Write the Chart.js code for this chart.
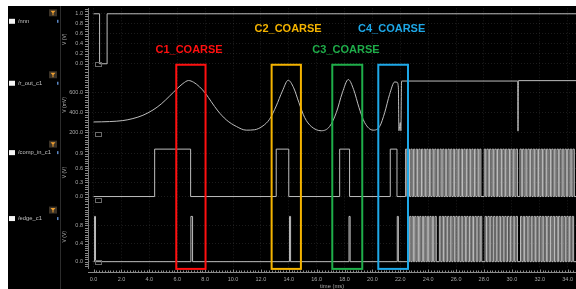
<!DOCTYPE html>
<html>
<head>
<meta charset="utf-8">
<script src="https://cdn.jsdelivr.net/npm/chart.js@4.4.1/dist/chart.umd.min.js"></script>
<style>
  html, body { margin: 0; padding: 0; background: #fff; }
  #wave { display: block; }
</style>
</head>
<body>
<canvas id="wave" width="576" height="289"></canvas>
<script>
// time axis (ms)
const xTickValues = [0, 2, 4, 6, 8, 10, 12, 14, 16, 18, 20, 22, 24, 26, 28, 30, 32, 34];

// /nnn  (V) - level changes at each time
const nnnTime  = [0, 0.43, 0.97, 34.6];
const nnnLevel = [1, 0, 1, 1];

// /r_out_c1 (mV)
const outTime = [0, 1.15, 2.1, 2.82, 3.54, 4.26, 4.85, 5.45, 5.98, 6.41, 6.81, 7.17, 7.6, 8.03, 8.44, 8.92,
  9.52, 10.24, 10.95, 11.55, 12.15, 12.62, 13.1, 13.54, 13.96, 14.35, 14.73, 15.14, 15.61, 16.33, 16.93,
  17.41, 17.84, 18.27, 18.65, 19.04, 19.44, 20.04, 20.52, 20.88, 21.23, 21.6, 21.76, 21.86, 21.9, 22.0,
  22.04, 22.09, 30.42, 30.44, 30.47, 34.6];
const outMv = [302, 306, 316, 336, 369, 422, 482, 561, 634, 687, 717, 700, 654, 588, 505, 412,
  323, 257, 220, 224, 263, 329, 462, 611, 720, 644, 495, 346, 257, 214, 257,
  396, 594, 727, 627, 445, 296, 220, 257, 396, 578, 703, 700, 650, 214, 296,
  214, 712, 712, 210, 716, 716];

// /comp_in_c1 (V): starts low, toggles at each listed time (ms)
const compLow = 0, compHigh = 1.0;
const compEdges = [4.38, 6.96, 13.10, 14.00, 17.65, 18.36, 21.28, 21.76,
  22.38, 22.47, 22.57, 22.66, 22.76, 22.85, 22.95, 23.04, 23.14, 23.23, 23.33, 23.42, 23.52, 23.61,
  23.71, 23.80, 23.90, 23.99, 24.09, 24.18, 24.28, 24.37, 24.47, 24.56, 24.66, 24.75, 24.85, 24.94,
  25.04, 25.13, 25.23, 25.32, 25.42, 25.51, 25.61, 25.70, 25.80, 25.89, 25.99, 26.08, 26.18, 26.27,
  26.37, 26.46, 26.56, 26.65, 26.75, 26.84, 26.94, 27.03, 27.13, 27.22, 27.32, 27.41, 27.51, 27.60,
  27.70, 27.78,
  28.02, 28.12, 28.21, 28.31, 28.40, 28.50, 28.59, 28.69, 28.78, 28.88, 28.97, 29.07, 29.16, 29.26,
  29.35, 29.45, 29.54, 29.64, 29.73, 29.83, 29.92, 30.02, 30.11, 30.21, 30.30, 30.40,
  30.58, 30.68, 30.77, 30.87, 30.96, 31.06, 31.15, 31.25, 31.34, 31.44, 31.53, 31.63, 31.72, 31.82,
  31.91, 32.01, 32.10, 32.20, 32.29, 32.39, 32.48, 32.58, 32.67, 32.77, 32.86, 32.96, 33.05, 33.15,
  33.24, 33.34, 33.43, 33.53, 33.62, 33.72, 33.81, 33.91, 34.00, 34.10, 34.19, 34.29, 34.38, 34.48];

// /edge_c1 (V): starts low, toggles at each listed time (ms)
const edgeLow = 0, edgeHigh = 1.0;
const edgeEdges = [0.07, 0.14, 6.98, 7.10, 14.05, 14.13, 18.32, 18.40, 21.78, 21.86,
  22.67, 22.76, 22.85, 22.94, 23.03, 23.12, 23.21, 23.30, 23.39, 23.48, 23.58, 23.67, 23.76, 23.85,
  23.94, 24.03, 24.12, 24.21, 24.30, 24.39, 24.49, 24.58,
  24.80, 24.90, 25.00, 25.10, 25.19, 25.29, 25.39, 25.49, 25.59, 25.69, 25.78, 25.88, 25.98, 26.08,
  26.18, 26.27, 26.37, 26.47, 26.57, 26.67, 26.76, 26.86, 26.96, 27.06, 27.16, 27.25, 27.35, 27.45,
  27.55, 27.65, 27.74, 27.84,
  28.08, 28.18, 28.28, 28.38, 28.48, 28.58, 28.69, 28.79, 28.89, 28.99, 29.09, 29.19, 29.29, 29.39,
  29.49, 29.59, 29.69, 29.80, 29.90, 30.00, 30.10, 30.20, 30.30, 30.40,
  30.62, 30.72, 30.82, 30.91, 31.01, 31.11, 31.21, 31.30, 31.40, 31.50, 31.60, 31.69, 31.79, 31.89,
  31.99, 32.09, 32.18, 32.28, 32.38, 32.48, 32.57, 32.67, 32.77, 32.87, 32.96, 33.06, 33.16, 33.26,
  33.35, 33.45, 33.55, 33.65, 33.74, 33.84, 33.94, 34.04, 34.13, 34.23, 34.33, 34.43];

// y tick labels per panel
const nnnTicks  = [0, 0.2, 0.4, 0.6, 0.8, 1.0];
const outTicks  = [200, 400, 600];
const compTicks = [0, 0.3, 0.6, 0.9];
const edgeTicks = [0, 0.4, 0.8];

const signalNames = ['/nnn', '/r_out_c1', '/comp_in_c1', '/edge_c1'];

// coarse windows (ms)
const coarseNames = ['C1_COARSE', 'C2_COARSE', 'C3_COARSE', 'C4_COARSE'];
const coarseStart = [5.93, 12.77, 17.12, 20.42];
const coarseEnd   = [8.03, 14.87, 19.27, 22.55];
const coarseColors = ['#ff1010', '#f5b400', '#1fae4a', '#1ea8e8'];
// label anchor: time (ms) and level on the /nnn panel
const coarseLabelTime  = [6.85, 13.95, 18.1, 21.38];
const coarseLabelLevel = [0.28, 0.70, 0.28, 0.70];

const T_END = 34.6;

const toPoints = (ts, vs) => ts.map((t, i) => ({ x: t, y: vs[i] }));

// digital trace from a toggle list (stepped 'before': point = new level from that time)
function toggles(edges, low, high) {
  const pts = [{ x: 0, y: low }];
  let level = low;
  edges.forEach(t => {
    level = level === low ? high : low;
    pts.push({ x: t, y: level });
  });
  pts.push({ x: T_END, y: level });
  return pts;
}

const panelAxes = ['yNnn', 'yOut', 'yComp', 'yEdge'];
const rulerSteps = [0.05, 25, 0.05, 0.05];
const tickColor = '#a9a9a9';
const gridColor = 'rgba(255,255,255,0.11)';
const waveColor = '#bdbdbd';

function panelAxis(min, max, ticks, weight, title) {
  return {
    type: 'linear',
    position: 'left',
    stack: 'wave',
    stackWeight: weight,
    min: min,
    max: max,
    afterBuildTicks: s => { s.ticks = ticks.map(v => ({ value: v })); },
    afterFit: s => { s.width = 28; },
    ticks: {
      color: tickColor,
      font: { size: 5.5, family: 'Liberation Sans' },
      padding: 5,
      autoSkip: false,
      callback: v => v.toFixed(1)
    },
    grid: { color: gridColor, drawTicks: false },
    border: { display: true, color: '#7c7c7c', dash: [1, 2] },
    title: {
      display: true, text: title, color: tickColor,
      font: { size: 5, family: 'Liberation Sans' },
      padding: { top: 2, bottom: 0 }
    }
  };
}

const waveChrome = {
  id: 'waveChrome',
  beforeDraw(chart) {
    const { ctx, width, height, scales } = chart;
    ctx.save();
    ctx.fillStyle = '#ffffff';
    ctx.fillRect(0, 0, width, height);
    ctx.fillStyle = '#000000';
    ctx.fillRect(8, 6, width - 8, height - 6);
    ctx.strokeStyle = '#2c2c2c';
    ctx.lineWidth = 1;
    ctx.beginPath();
    ctx.moveTo(60.5, 6);
    ctx.lineTo(60.5, height);
    ctx.stroke();
    panelAxes.forEach((id, i) => {
      const s = scales[id];
      const ny = s.top + 13;
      ctx.fillStyle = '#f4f4f4';
      ctx.fillRect(9, ny - 2.5, 6, 5);
      ctx.fillStyle = '#c2c2c2';
      ctx.font = '5.8px "Liberation Sans"';
      ctx.textBaseline = 'middle';
      ctx.fillText(signalNames[i], 18, ny);
      ctx.fillStyle = '#5a86c4';
      ctx.fillRect(57, ny - 1.5, 1.5, 3);
      // filter icon
      const iy = s.top + 1;
      ctx.fillStyle = '#3b3328';
      ctx.fillRect(49, iy, 8, 7);
      ctx.fillStyle = '#f0a030';
      ctx.beginPath();
      ctx.moveTo(50.5, iy + 1.5);
      ctx.lineTo(55.5, iy + 1.5);
      ctx.lineTo(53.5, iy + 3.8);
      ctx.lineTo(53.5, iy + 6);
      ctx.lineTo(52.5, iy + 6);
      ctx.lineTo(52.5, iy + 3.8);
      ctx.closePath();
      ctx.fill();
    });
    ctx.restore();
  },
  afterDatasetsDraw(chart) {
    const { ctx, chartArea, scales } = chart;
    const x = scales.x;
    ctx.save();
    // rulers on the y axes
    ctx.strokeStyle = '#8a8a8a';
    ctx.lineWidth = 1;
    panelAxes.forEach((id, i) => {
      const s = scales[id];
      const step = rulerSteps[i];
      ctx.beginPath();
      for (let v = Math.ceil(s.min / step) * step; v <= s.max; v += step) {
        const y = Math.round(s.getPixelForValue(v)) + 0.5;
        ctx.moveTo(chartArea.left - 3, y);
        ctx.lineTo(chartArea.left, y);
      }
      ctx.stroke();
      // small marker box at panel bottom left
      ctx.strokeStyle = '#6a6a6a';
      ctx.strokeRect(95.5, Math.round(s.bottom) - 7.5, 6, 4);
      ctx.strokeStyle = '#8a8a8a';
    });
    // time ruler
    const ry = chartArea.bottom + 4.5;
    ctx.beginPath();
    ctx.moveTo(chartArea.left, ry);
    ctx.lineTo(chartArea.right, ry);
    for (let i = 0; i * 0.2 <= x.max; i++) {
      const px = Math.round(x.getPixelForValue(i * 0.2)) + 0.5;
      ctx.moveTo(px, ry);
      ctx.lineTo(px, ry - (i % 10 === 0 ? 3 : 2));
    }
    ctx.stroke();

    // coarse windows
    const top = scales.yNnn.getPixelForValue(-0.02);
    const bottom = scales.yEdge.getPixelForValue(-0.16);
    ctx.lineWidth = 2;
    coarseNames.forEach((name, i) => {
      const x0 = x.getPixelForValue(coarseStart[i]);
      const x1 = x.getPixelForValue(coarseEnd[i]);
      ctx.strokeStyle = coarseColors[i];
      ctx.strokeRect(x0, top, x1 - x0, bottom - top);
      ctx.fillStyle = coarseColors[i];
      ctx.font = 'bold 11px "Liberation Sans"';
      ctx.textAlign = 'center';
      ctx.textBaseline = 'middle';
      ctx.fillText(name, x.getPixelForValue(coarseLabelTime[i]),
        scales.yNnn.getPixelForValue(coarseLabelLevel[i]));
    });
    ctx.restore();
  }
};

new Chart(document.getElementById('wave'), {
  type: 'line',
  data: {
    datasets: [
      { label: '/nnn', data: toPoints(nnnTime, nnnLevel), yAxisID: 'yNnn', stepped: 'before', borderColor: waveColor },
      { label: '/r_out_c1', data: toPoints(outTime, outMv), yAxisID: 'yOut', cubicInterpolationMode: 'monotone', borderColor: waveColor },
      { label: '/comp_in_c1', data: toggles(compEdges, compLow, compHigh), yAxisID: 'yComp', stepped: 'before', borderColor: waveColor },
      { label: '/edge_c1', data: toggles(edgeEdges, edgeLow, edgeHigh), yAxisID: 'yEdge', stepped: 'before', borderColor: waveColor }
    ]
  },
  options: {
    responsive: false,
    animation: false,
    devicePixelRatio: 1,
    layout: { padding: { left: 60, top: 6, right: 0, bottom: 0 } },
    plugins: { legend: { display: false }, tooltip: { enabled: false } },
    elements: { point: { radius: 0 }, line: { borderWidth: 1 } },
    scales: {
      x: {
        type: 'linear',
        min: -0.4,
        max: T_END,
        afterBuildTicks: s => { s.ticks = xTickValues.map(v => ({ value: v })); },
        afterFit: s => { s.height = 21; },
        ticks: {
          color: tickColor,
          font: { size: 5.5, family: 'Liberation Sans' },
          padding: 0,
          maxRotation: 0,
          autoSkip: false,
          callback: v => v.toFixed(1)
        },
        grid: { color: gridColor, drawTicks: true, tickLength: 8, tickColor: 'rgba(0,0,0,0)' },
        border: { display: false, dash: [1, 2] },
        title: {
          display: true, text: 'time (ms)', color: tickColor,
          font: { size: 5.8, family: 'Liberation Sans' },
          padding: { top: 0, bottom: -1 }
        }
      },
      yEdge: panelAxis(-0.14, 1.24, edgeTicks, 63, 'V (V)'),
      yComp: panelAxis(-0.19, 1.2, compTicks, 66.5, 'V (V)'),
      yOut: panelAxis(125, 820, outTicks, 70, 'V (mV)'),
      yNnn: panelAxis(-0.13, 1.11, nnnTicks, 62.5, 'V (V)')
    }
  },
  plugins: [waveChrome]
});
</script>
</body>
</html>
